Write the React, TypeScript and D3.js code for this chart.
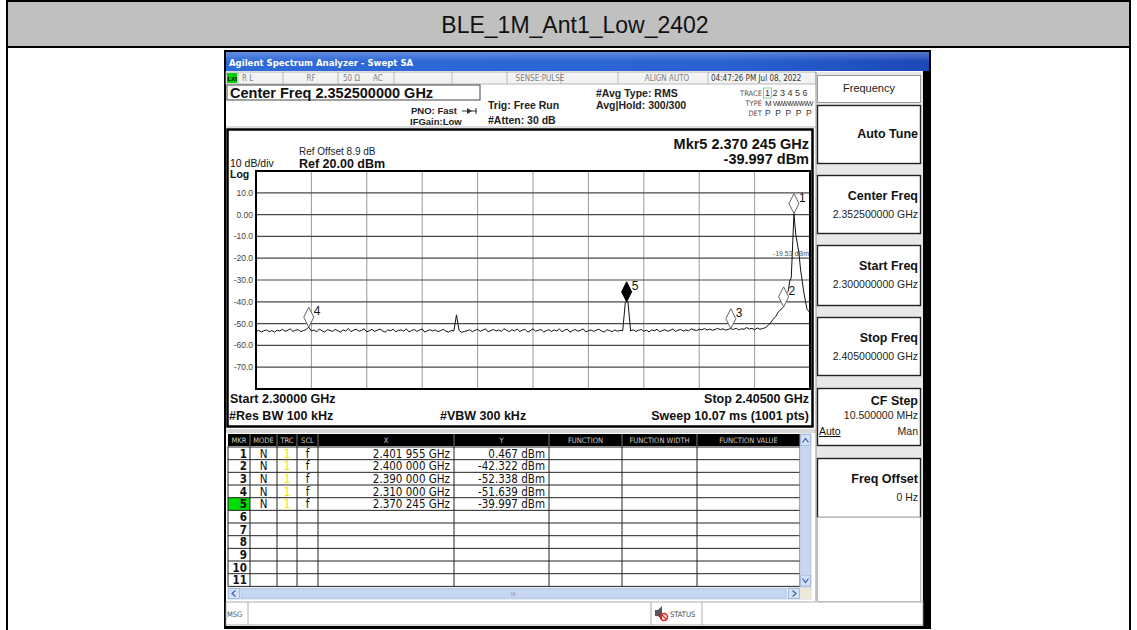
import React from 'react';
import * as d3 from 'd3';

const FONT = '"Liberation Sans", Arial, sans-serif';
const NARROW = '"Liberation Sans Narrow", "DejaVu Sans Condensed", Arial, sans-serif';

const chartTitle = 'BLE_1M_Ant1_Low_2402';

// sweep settings (MHz / dBm)
const startMHz = 2300;
const stopMHz = 2405;
const sweepStepMHz = 0.5;
const refLevelDbm = 20;
const bottomLevelDbm = -80;

const yTickValues = [10, 0, -10, -20, -30, -40, -50, -60, -70];
const yTickLabels = ['10.0', '0.00', '-10.0', '-20.0', '-30.0', '-40.0', '-50.0', '-60.0', '-70.0'];

// trace, 2300 .. 2396.5 MHz every 0.5 MHz
const noiseLevels = [
  -53.6, -53.1, -53.8, -53.3, -52.9, -53.7, -53.2, -53.9, -53.0, -53.4,
  -52.6, -53.5, -53.1, -52.4, -53.6, -53.0, -52.8, -53.7, -53.2, -52.7,
  -51.6, -53.4, -52.9, -53.8, -52.5, -53.3, -53.9, -52.8, -53.1, -53.6,
  -52.7, -53.2, -53.9, -52.9, -53.4, -52.3, -53.7, -53.0, -52.6, -53.5,
  -53.1, -52.4, -53.8, -53.2, -52.7, -53.6, -53.0, -52.5, -53.4, -53.9,
  -52.8, -53.3, -52.6, -53.7, -53.1, -52.9, -53.5, -52.4, -53.8, -53.2,
  -52.7, -53.6, -53.0, -52.5, -53.9, -53.3, -52.8, -53.4, -52.9, -53.7,
  -53.2, -52.6, -53.5, -53.9, -53.1, -53.4, -46.0, -53.2, -54.0, -53.6,
  -53.3, -52.8, -53.7, -53.1, -52.6, -53.5, -53.0, -52.4, -53.8, -53.2,
  -52.7, -53.4, -52.9, -53.6, -52.3, -53.1, -53.7, -52.8, -53.3, -52.5,
  -53.6, -53.0, -52.6, -53.9, -53.2, -52.4, -53.5, -53.1, -52.7, -53.8,
  -53.3, -52.8, -53.6, -52.9, -53.4, -52.5, -53.7, -53.0, -52.6, -53.9,
  -53.2, -52.7, -53.5, -53.1, -52.4, -53.8, -53.3, -52.9, -53.6, -53.0,
  -52.6, -53.4, -53.9, -52.8, -53.2, -53.7, -52.9, -53.5, -53.1, -53.3,
  -40.2, -40.0, -53.4, -52.8, -53.6, -53.1, -52.7, -53.5, -53.0, -53.8,
  -52.9, -53.3, -52.6, -53.7, -53.2, -52.8, -53.5, -53.1, -52.5, -53.6,
  -53.0, -52.7, -53.4, -52.9, -53.3, -52.4, -52.9, -53.2, -52.6, -52.8,
  -52.3, -52.9, -52.5, -53.1, -52.7, -52.2, -52.8, -52.4, -53.0, -52.6,
  -52.3, -52.7, -52.1, -52.9, -52.4, -52.6, -51.8, -52.5, -52.2, -52.8,
  -52.0, -52.6, -52.3, -51.9,
];

// carrier skirt, finer points
const carrierFreqs = [
  2397.0, 2397.5, 2398.0, 2398.5, 2399.0, 2399.5, 2400.0, 2400.3, 2400.9,
  2401.15, 2401.45, 2401.955, 2402.3, 2402.9, 2403.2, 2403.85, 2404.45, 2405.0,
];
const carrierLevels = [
  -51.0, -49.7, -48.0, -46.8, -44.6, -43.5, -42.3, -36.5, -35.0,
  -30.5, -29.0, 0.467, -9.0, -17.6, -25.0, -36.0, -43.5, -45.0,
];

const markerIds = ['1', '2', '3', '4', '5'];
const markerFreqs = [2401.955, 2400.0, 2390.0, 2310.0, 2370.245];
const markerLevels = [0.467, -42.322, -52.338, -51.639, -39.997];
const markerXText = ['2.401 955 GHz', '2.400 000 GHz', '2.390 000 GHz', '2.310 000 GHz', '2.370 245 GHz'];
const markerYText = ['0.467 dBm', '-42.322 dBm', '-52.338 dBm', '-51.639 dBm', '-39.997 dBm'];
const activeMarker = '5';

const tableRowIds = ['1', '2', '3', '4', '5', '6', '7', '8', '9', '10', '11'];
const tableColumns = ['MKR', 'MODE', 'TRC', 'SCL', 'X', 'Y', 'FUNCTION', 'FUNCTION WIDTH', 'FUNCTION VALUE'];

const softkeyTitles = ['Auto Tune', 'Center Freq', 'Start Freq', 'Stop Freq', 'CF Step', 'Freq Offset'];
const softkeyValues = ['', '2.352500000 GHz', '2.300000000 GHz', '2.405000000 GHz', '10.500000 MHz', '0 Hz'];

// layout
const plot = { left: 256, right: 810, top: 171, bottom: 389 };
const colEdges = [228, 250, 277, 297, 318, 454, 549, 622, 697, 800];
const rowTop = 447;
const rowH = 12.67;
const softkeyBoxes = [
  [105, 163], [175, 233], [245, 305], [317, 375], [388, 445], [458, 517],
];

const x = d3.scaleLinear().domain([startMHz, stopMHz]).range([plot.left, plot.right]);
const y = d3.scaleLinear().domain([bottomLevelDbm, refLevelDbm]).range([plot.bottom, plot.top]);

const sweepFreqs = noiseLevels.map((_, i) => startMHz + i * sweepStepMHz);
const tracePoints: [number, number][] = sweepFreqs
  .map((f, i) => [f, noiseLevels[i]] as [number, number])
  .concat(carrierFreqs.map((f, i) => [f, carrierLevels[i]] as [number, number]));
const tracePath = d3
  .line<[number, number]>()
  .x((d) => x(d[0]))
  .y((d) => y(d[1]))(tracePoints);

const gridFreqs = d3.range(1, 10).map((i) => startMHz + (i * (stopMHz - startMHz)) / 10);

const diamond = (cx: number, cy: number) =>
  `M${cx},${cy} L${cx + 5},${cy - 10} L${cx},${cy - 20} L${cx - 5},${cy - 10} Z`;

const statusDividers = [238, 283, 338, 394, 452, 507, 561, 618, 708];

const App = () => {
  return (
    <svg
      width={1137}
      height={630}
      style={{ position: 'absolute', left: 0, top: 0, background: '#fff' }}
      fontFamily={FONT}
    >
      {/* outer report table */}
      <rect x={7} y={1} width={1123} height={45} fill="#c0c0c0" />
      <line x1={7} x2={1131} y1={1} y2={1} stroke="#000" strokeWidth={2} />
      <line x1={7} x2={1131} y1={47} y2={47} stroke="#000" strokeWidth={2} />
      <line x1={7} x2={7} y1={0} y2={630} stroke="#000" strokeWidth={2} />
      <line x1={1130} x2={1130} y1={0} y2={630} stroke="#000" strokeWidth={2} />
      <text x={575} y={33} textAnchor="middle" fontSize={23} fill="#111">
        {chartTitle}
      </text>

      {/* analyzer screen */}
      <rect x={224} y={50} width={707} height={579} fill="#000" />
      <defs>
        <linearGradient id="tb" x1="0" x2="1" y1="0" y2="0">
          <stop offset="0" stopColor="#2f6ad8" />
          <stop offset="0.7" stopColor="#2a62d2" />
          <stop offset="1" stopColor="#1c48b8" />
        </linearGradient>
        <linearGradient id="tbv" x1="0" x2="0" y1="0" y2="1">
          <stop offset="0" stopColor="#ffffff" stopOpacity={0.25} />
          <stop offset="0.5" stopColor="#ffffff" stopOpacity={0} />
        </linearGradient>
      </defs>
      <rect x={226} y={52} width={703} height={19} fill="url(#tb)" />
      <rect x={226} y={52} width={703} height={19} fill="url(#tbv)" />
      <text x={229} y={66} fontSize={9.5} fontWeight="bold" fill="#fff" fontFamily={NARROW}>
        Agilent Spectrum Analyzer - Swept SA
      </text>
      <rect x={226} y={71} width={697} height={555} fill="#fff" />

      {/* status row */}
      <rect x={226} y={72} width={590} height={12} fill="#f3f3f3" stroke="#a8a8a8" strokeWidth={0.8} />
      {statusDividers.map((d) => (
        <line key={d} x1={d} x2={d} y1={72} y2={84} stroke="#a8a8a8" strokeWidth={0.8} />
      ))}
      <rect x={227} y={73} width={10} height={10} fill="#00d000" />
      <text x={227.5} y={81} fontSize={6} fontWeight="bold" fill="#000">LXI</text>
      <g fontSize={8} fill="#808080" fontFamily={NARROW}>
        <text x={242} y={81}>R L</text>
        <text x={311} y={81} textAnchor="middle">RF</text>
        <text x={343} y={81}>50 Ω</text>
        <text x={373} y={81}>AC</text>
        <text x={540} y={81} textAnchor="middle">SENSE:PULSE</text>
        <text x={667} y={81} textAnchor="middle">ALIGN AUTO</text>
        <text x={711} y={81} fill="#333">04:47:26 PM Jul 08, 2022</text>
      </g>

      {/* setup info */}
      <rect x={227} y={85} width={253} height={15} fill="#fff" stroke="#444" strokeWidth={1} />
      <text x={230} y={98} fontSize={14.5} fontWeight="bold" fill="#111">
        Center Freq 2.352500000 GHz
      </text>
      <g fontSize={9.5} fontWeight="bold" fill="#222">
        <text x={411} y={114}>PNO: Fast</text>
        <text x={410} y={125}>IFGain:Low</text>
        <text x={488} y={109} fontSize={10.5}>Trig: Free Run</text>
        <text x={488} y={124} fontSize={10.5}>#Atten: 30 dB</text>
        <text x={596} y={97} fontSize={10.5}>#Avg Type: RMS</text>
        <text x={596} y={109} fontSize={10.5}>Avg|Hold: 300/300</text>
      </g>
      <line x1={462} x2={477} y1={111} y2={111} stroke="#333" strokeWidth={1} />
      <path d="M467,108 L472,111 L467,114 Z" fill="#333" />
      <line x1={476} x2={476} y1={108} y2={114} stroke="#333" strokeWidth={1} />
      <g fontSize={7.5} fill="#555" fontFamily={NARROW}>
        <text x={762} y={96} textAnchor="end">TRACE</text>
        <text x={762} y={106} textAnchor="end">TYPE</text>
        <text x={762} y={116} textAnchor="end">DET</text>
      </g>
      <rect x={763.5} y={88} width={8} height={10} fill="none" stroke="#6c6" strokeWidth={0.8} />
      <g fontSize={9} fill="#333">
        <text x={765} y={96}>1 2 3 4 5 6</text>
        <text x={765} y={106} fontSize={8}>M</text>
        <text x={773} y={106} fontSize={7} letterSpacing={-1}>WWWWWWW</text>
        <text x={765} y={116} fontSize={8.5} letterSpacing={1.2}>P P P P P P</text>
      </g>
      <line x1={226} x2={816} y1={127} y2={127} stroke="#bbb" strokeWidth={1} />

      {/* graph frame */}
      <rect x={227.5} y={129.5} width={585} height={297} fill="#fff" stroke="#000" strokeWidth={2.5} />
      <text x={299} y={155} fontSize={10} fill="#222">Ref Offset 8.9 dB</text>
      <text x={230} y={167} fontSize={10.5} fill="#111">10 dB/div</text>
      <text x={299} y={168} fontSize={12.5} fontWeight="bold" fill="#111">Ref 20.00 dBm</text>
      <text x={230} y={178} fontSize={10.5} fontWeight="bold" fill="#111">Log</text>
      <text x={809} y={149} textAnchor="end" fontSize={14.5} fontWeight="bold" fill="#111">
        Mkr5 2.370 245 GHz
      </text>
      <text x={809} y={164} textAnchor="end" fontSize={14.5} fontWeight="bold" fill="#111">
        -39.997 dBm
      </text>

      {/* grid */}
      {gridFreqs.map((f) => (
        <line key={f} x1={x(f)} x2={x(f)} y1={plot.top} y2={plot.bottom} stroke="#9a9a9a" strokeWidth={1} />
      ))}
      {yTickValues.map((v, i) => (
        <g key={v}>
          <line x1={plot.left} x2={plot.right} y1={y(v)} y2={y(v)} stroke="#4a4a4a" strokeWidth={1.2} />
          <text x={253} y={y(v) + 3} textAnchor="end" fontSize={8.5} fill="#444">
            {yTickLabels[i]}
          </text>
        </g>
      ))}
      <rect
        x={plot.left}
        y={plot.top}
        width={plot.right - plot.left}
        height={plot.bottom - plot.top}
        fill="none"
        stroke="#000"
        strokeWidth={2}
      />

      {/* trace */}
      <path d={tracePath || ''} fill="none" stroke="#111" strokeWidth={1} strokeLinejoin="round" />
      <text x={809} y={256} textAnchor="end" fontSize={7} fill="#555">-19.53 dBm</text>

      {/* markers */}
      {markerIds.map((id, i) => {
        const cx = x(markerFreqs[i]);
        const cy = y(markerLevels[i]);
        const active = id === activeMarker;
        return (
          <g key={id}>
            <path
              d={diamond(cx, cy)}
              fill={active ? '#000' : '#fff'}
              stroke={active ? '#000' : '#666'}
              strokeWidth={1}
            />
            <text x={cx + 5} y={cy - 12} fontSize={12} fill="#111">{id}</text>
          </g>
        );
      })}

      {/* below plot */}
      <g fontSize={12.5} fontWeight="bold" fill="#111">
        <text x={230} y={403}>Start 2.30000 GHz</text>
        <text x={809} y={403} textAnchor="end">Stop 2.40500 GHz</text>
        <text x={229} y={420}>#Res BW 100 kHz</text>
        <text x={440} y={420}>#VBW 300 kHz</text>
        <text x={809} y={420} textAnchor="end">Sweep  10.07 ms (1001 pts)</text>
      </g>

      {/* marker table */}
      <rect x={226} y={429} width={590} height={4} fill="#d8d8d8" />
      <rect x={228} y={434} width={572} height={12} fill="#000" />
      {tableColumns.map((c, i) => (
        <g key={c}>
          <text
            x={(colEdges[i] + colEdges[i + 1]) / 2}
            y={443}
            textAnchor="middle"
            fontSize={7.5}
            fill="#c8c8c8"
            fontFamily={NARROW}
          >
            {c}
          </text>
          {i > 0 && <line x1={colEdges[i]} x2={colEdges[i]} y1={434} y2={446} stroke="#777" strokeWidth={1} />}
        </g>
      ))}
      <rect x={228} y={446} width={572} height={rowH * 11} fill="#fff" />
      <rect x={228} y={rowTop + 4 * rowH} width={22} height={rowH} fill="#00dd00" />
      {d3.range(12).map((r) => (
        <line key={r} x1={228} x2={800} y1={rowTop + r * rowH} y2={rowTop + r * rowH} stroke="#222" strokeWidth={1} />
      ))}
      {colEdges.map((c) => (
        <line key={c} x1={c} x2={c} y1={446} y2={rowTop + 11 * rowH} stroke="#222" strokeWidth={1} />
      ))}
      {tableRowIds.map((id, r) => {
        const by = rowTop + r * rowH + 10.5;
        return (
          <g key={id} fontSize={11.5} fill="#111" fontFamily={NARROW}>
            <text x={247} y={by} textAnchor="end" fontWeight="bold">{id}</text>
            {r < markerXText.length && (
              <>
                <text x={263.5} y={by} textAnchor="middle">N</text>
                <text x={287} y={by} textAnchor="middle" fill="#f0e000">1</text>
                <text x={307.5} y={by} textAnchor="middle">f</text>
                <text x={450} y={by} textAnchor="end">{markerXText[r]}</text>
                <text x={545} y={by} textAnchor="end">{markerYText[r]}</text>
              </>
            )}
          </g>
        );
      })}

      {/* vertical scrollbar */}
      <rect x={800} y={434} width={11} height={153} fill="#e3ebf8" stroke="#b6c6e2" strokeWidth={0.8} />
      <rect x={800.5} y={434.5} width={10} height={11} fill="#d4e0f4" stroke="#98aed6" strokeWidth={0.8} />
      <path d="M802.5,442.5 L805.5,438.5 L808.5,442.5" fill="none" stroke="#3b5fa8" strokeWidth={1.2} />
      <rect x={801} y={447} width={9} height={126} fill="#c9d8f1" stroke="#a7bce0" strokeWidth={0.6} />
      <rect x={800.5} y={575} width={10} height={11} fill="#d4e0f4" stroke="#98aed6" strokeWidth={0.8} />
      <path d="M802.5,578.5 L805.5,582.5 L808.5,578.5" fill="none" stroke="#3b5fa8" strokeWidth={1.2} />

      {/* horizontal scrollbar */}
      <rect x={228} y={588} width={583} height={11} fill="#e3ebf8" stroke="#b6c6e2" strokeWidth={0.8} />
      <rect x={228.5} y={588.5} width={11} height={10} fill="#d4e0f4" stroke="#98aed6" strokeWidth={0.8} />
      <path d="M235.5,590.5 L232,593.5 L235.5,596.5" fill="none" stroke="#3b5fa8" strokeWidth={1.2} />
      <rect x={241} y={589} width={545} height={9} fill="#c6d7f2" stroke="#a7bce0" strokeWidth={0.6} />
      <text x={513} y={596} textAnchor="middle" fontSize={6} fill="#7d93c0">III</text>
      <rect x={788.5} y={588.5} width={11} height={10} fill="#d4e0f4" stroke="#98aed6" strokeWidth={0.8} />
      <path d="M792.5,590.5 L796,593.5 L792.5,596.5" fill="none" stroke="#3b5fa8" strokeWidth={1.2} />
      <rect x={800} y={588} width={11} height={11} fill="#ece9d8" />

      {/* message bar */}
      <rect x={226} y={602} width={697} height={23} fill="#fff" stroke="#9a9a9a" strokeWidth={0.8} />
      <line x1={248} x2={248} y1={602} y2={625} stroke="#9a9a9a" strokeWidth={0.8} />
      <line x1={651} x2={651} y1={602} y2={625} stroke="#9a9a9a" strokeWidth={0.8} />
      <line x1={702} x2={702} y1={602} y2={625} stroke="#9a9a9a" strokeWidth={0.8} />
      <text x={227} y={617} fontSize={7.5} fill="#555" fontFamily={NARROW}>MSG</text>
      <path d="M655,610 L658,610 L662,606 L662,620 L658,616 L655,616 Z" fill="#555" />
      <circle cx={664} cy={617} r={3.5} fill="none" stroke="#e02020" strokeWidth={1.5} />
      <line x1={661.5} x2={666.5} y1={614.5} y2={619.5} stroke="#e02020" strokeWidth={1.3} />
      <text x={670} y={617} fontSize={7.5} fill="#444" fontFamily={NARROW}>STATUS</text>

      {/* softkey panel */}
      <rect x={816} y={72} width={107} height={529} fill="#e8e8e8" />
      <line x1={816} x2={816} y1={72} y2={601} stroke="#999" strokeWidth={1} />
      <rect x={817.5} y={75.5} width={103} height={27} fill="#fff" stroke="#999" strokeWidth={1} />
      <text x={869} y={92} textAnchor="middle" fontSize={11} fill="#222">Frequency</text>
      {softkeyBoxes.map(([t, b], i) => {
        const hasValue = softkeyValues[i] !== '';
        const titleY = i === 0 ? (t + b) / 2 + 4 : i === 4 ? t + 17 : t + 25;
        return (
          <g key={softkeyTitles[i]}>
            <rect x={817.5} y={t + 0.5} width={103} height={b - t} fill="#fff" stroke="#222" strokeWidth={1.4} />
            <text x={918} y={titleY} textAnchor="end" fontSize={12.5} fontWeight="bold" fill="#111">
              {softkeyTitles[i]}
            </text>
            {hasValue && (
              <text x={918} y={i === 4 ? t + 31 : t + 43} textAnchor="end" fontSize={10.5} fill="#222">
                {softkeyValues[i]}
              </text>
            )}
          </g>
        );
      })}
      <text x={819} y={435} fontSize={10.5} fill="#111" textDecoration="underline">Auto</text>
      <text x={918} y={435} textAnchor="end" fontSize={10.5} fill="#222">Man</text>
      <rect x={817.5} y={517.5} width={103} height={84} fill="#fff" stroke="#bbb" strokeWidth={1} />
    </svg>
  );
};

export default App;
